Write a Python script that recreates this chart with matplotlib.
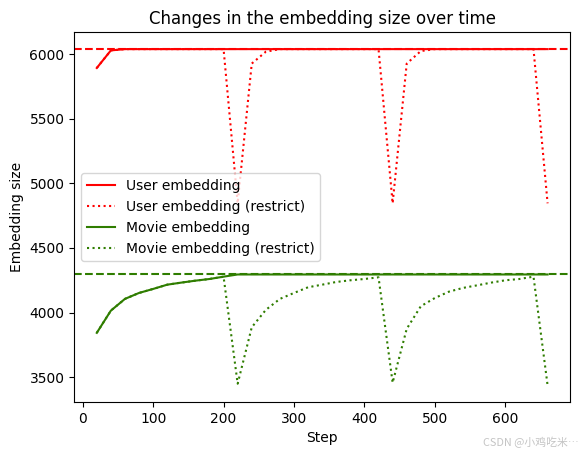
import numpy as np
import matplotlib.pyplot as plt

# steps logged every 20
steps = list(range(20, 661, 20))

user_max = 6040
movie_max = 4295

user_emb = [5894, 6030] + [6040] * 31
user_emb_restrict = ([5894, 6030] + [6040] * 8 +
                     [4846, 5928, 6020] + [6040] * 8 +
                     [4846, 5928, 6025] + [6040] * 8 +
                     [4846])

movie_emb = [3843, 4015, 4106, 4152, 4183, 4216, 4232, 4247, 4260, 4278] + [4295] * 23
movie_emb_restrict = ([3843, 4015, 4106, 4152, 4183, 4216, 4232, 4247, 4260, 4278] +
                      [3449, 3886, 4021, 4106, 4152, 4196, 4216, 4237, 4250, 4260, 4273] +
                      [3457, 3874, 4049, 4113, 4162, 4191, 4211, 4232, 4250, 4260, 4278] +
                      [3436])

green = '#2f7d00'

fig = plt.figure(figsize=(5.8, 4.55), dpi=100)
plt.subplots_adjust(left=0.128, right=0.983, top=0.929, bottom=0.116)

plt.axhline(user_max, color='r', linestyle='--')
plt.axhline(movie_max, color=green, linestyle='--')
plt.plot(steps, user_emb, color='r', label='User embedding')
plt.plot(steps, user_emb_restrict, color='r', linestyle=':', label='User embedding (restrict)')
plt.plot(steps, movie_emb, color=green, label='Movie embedding')
plt.plot(steps, movie_emb_restrict, color=green, linestyle=':', label='Movie embedding (restrict)')

plt.title('Changes in the embedding size over time')
plt.xlabel('Step')
plt.ylabel('Embedding size')
plt.legend(loc='center left')

fig.text(0.997, 0.016, 'CSDN @小鸡吃米…', ha='right', va='bottom', fontsize=7.8,
         color='#c4c4c4', family=['Noto Sans CJK SC', 'DejaVu Sans'])

plt.savefig('out.png')
